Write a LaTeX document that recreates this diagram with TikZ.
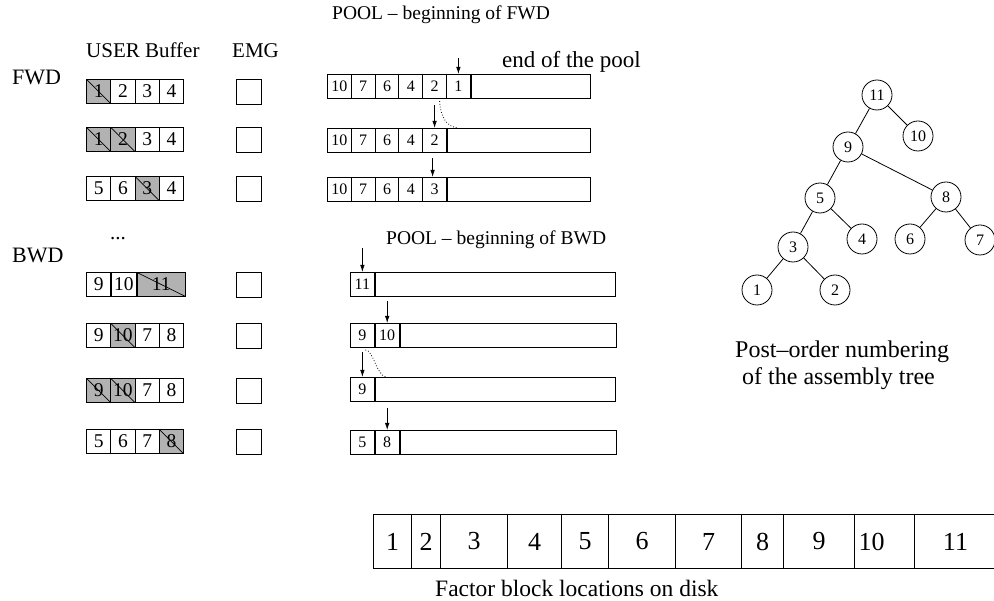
\documentclass[tikz,border=0pt]{standalone}
\usepackage{fontspec}
\setmainfont{Liberation Serif}
\usetikzlibrary{arrows.meta}

\tikzset{
  lbl/.style={inner sep=0pt, anchor=base west, font=\fontsize{21}{24}\selectfont},
  ucell/.style={draw, line width=1pt, minimum width=24.25pt, minimum height=24pt, inner sep=0pt, anchor=north west, font=\fontsize{19.5}{19.5}\selectfont},
  used/.style={fill=black!30, path picture={\draw[line width=0.7pt] (path picture bounding box.north west) -- (path picture bounding box.south east);}},
  emgbox/.style={draw, line width=1pt, minimum size=25pt, inner sep=0pt, anchor=north west},
  pcell/.style={draw, line width=1pt, minimum width=23.8pt, minimum height=24pt, inner sep=0pt, anchor=north west, font=\fontsize{16}{16}\selectfont},
  ptr/.style={-{Latex[length=7pt,width=4.5pt]}, line width=0.8pt},
  trail/.style={dotted, line width=0.8pt},
  tnode/.style={draw, circle, line width=0.8pt, minimum size=30pt, inner sep=0pt, font=\fontsize{16}{16}\selectfont},
  dcell/.style={draw, line width=1pt, minimum height=54pt, inner sep=0pt, anchor=north west, font=\fontsize{26}{26}\selectfont},
  lefty/.style={text width=52pt, align=left, inner xsep=4pt},
}

\begin{document}
\begin{tikzpicture}[x=1pt,y=-1pt]
    \useasboundingbox (0,0) rectangle (994,601);
    % headings
    \node[lbl, font=\fontsize{19.5}{22}\selectfont] (pfwd) at (332,20) {POOL -- beginning of FWD};
    \node[lbl] (ubuf) at (86,58) {USER Buffer};
    \node[lbl] (emg) at (232,58) {EMG};
    \node[lbl, font=\fontsize{22}{24}\selectfont] (fwd) at (12,85) {FWD};
    \node[lbl, font=\fontsize{23}{25}\selectfont] (eop) at (502,68) {end of the pool};
    \node[lbl] (dots) at (110,240) {...};
    \node[lbl, font=\fontsize{22}{24}\selectfont] (bwd) at (12,263) {BWD};
    \node[lbl, font=\fontsize{19.5}{22}\selectfont] (pbwd) at (386,245) {POOL -- beginning of BWD};

    % user buffer, forward phase
    \foreach \v/\s [count=\i] in {1/used,2/,3/,4/}
        \node[ucell,\s] (ua\i) at ({86+(\i-1)*24.25},79) {\v};
    \foreach \v/\s [count=\i] in {1/used,2/used,3/,4/}
        \node[ucell,\s] (ub\i) at ({86+(\i-1)*24.25},127) {\v};
    \foreach \v/\s [count=\i] in {5/,6/,3/used,4/}
        \node[ucell,\s] (uc\i) at ({86+(\i-1)*24.25},176) {\v};

    % user buffer, backward phase
    \node[ucell] (ud1) at (86,272) {9};
    \node[ucell] (ud2) at (ud1.north east) {10};
    \node[ucell, used, minimum width=48.5pt] (ud3) at (ud2.north east) {11};
    \foreach \v/\s [count=\i] in {9/,10/used,7/,8/}
        \node[ucell,\s] (ue\i) at ({86+(\i-1)*24.25},323) {\v};
    \foreach \v/\s [count=\i] in {9/used,10/used,7/,8/}
        \node[ucell,\s] (uf\i) at ({86+(\i-1)*24.25},378) {\v};
    \foreach \v/\s [count=\i] in {5/,6/,7/,8/used}
        \node[ucell,\s] (ug\i) at ({86+(\i-1)*24.25},429) {\v};

    % EMG boxes
    \foreach \y [count=\i] in {79,127,176,272,323,378,429}
        \node[emgbox] (emg\i) at (236,\y) {};

    % pool, forward phase
    \foreach \v [count=\i] in {10,7,6,4,2,1}
        \node[pcell] (pa\i) at ({327+(\i-1)*23.8},74) {\v};
    \node[pcell, minimum width=119.2pt] (pa-rest) at (pa6.north east) {};
    \foreach \v [count=\i] in {10,7,6,4,2}
        \node[pcell] (pb\i) at ({327+(\i-1)*23.8},128) {\v};
    \node[pcell, minimum width=143pt] (pb-rest) at (pb5.north east) {};
    \foreach \v [count=\i] in {10,7,6,4,3}
        \node[pcell] (pc\i) at ({327+(\i-1)*23.8},177) {\v};
    \node[pcell, minimum width=143pt] (pc-rest) at (pc5.north east) {};

    \draw[ptr] ([yshift=16pt]pa6.north) -- (pa6.north);
    \draw[ptr] ([yshift=23pt]pb5.north) -- (pb5.north);
    \draw[ptr] ([xshift=-2pt,yshift=19pt]pc5.north) -- ([xshift=-2pt]pc5.north);
    \draw[trail] ([xshift=5pt,yshift=-2pt]pa5.south) .. controls +(1,18) and +(-10,-1) .. ([xshift=11pt]pb-rest.north west);

    % pool, backward phase
    \node[pcell] (qa1) at (350,272) {11};
    \node[pcell, minimum width=240.2pt] (qa-rest) at (qa1.north east) {};
    \node[pcell] (qb1) at (350,323) {9};
    \node[pcell] (qb2) at (qb1.north east) {10};
    \node[pcell, minimum width=216.4pt] (qb-rest) at (qb2.north east) {};
    \node[pcell] (qc1) at (350,377) {9};
    \node[pcell, minimum width=240.2pt] (qc-rest) at (qc1.north east) {};
    \node[pcell] (qd1) at (350,430) {5};
    \node[pcell] (qd2) at (qd1.north east) {8};
    \node[pcell, minimum width=216.4pt] (qd-rest) at (qd2.north east) {};

    \draw[ptr] ([yshift=24pt]qa1.north) -- (qa1.north);
    \draw[ptr] ([yshift=22pt]qb2.north) -- (qb2.north);
    \draw[ptr] ([yshift=25pt]qc1.north) -- (qc1.north);
    \draw[ptr] ([yshift=22pt]qd2.north) -- (qd2.north);
    \draw[trail] ([xshift=3pt,yshift=-2pt]qb1.south) .. controls +(8,0) and +(-10,-3) .. ([xshift=11pt]qc-rest.north west);

    % assembly tree
    \node[tnode] (t11) at (877,95) {11};
    \node[tnode] (t10) at (918,136) {10};
    \node[tnode] (t9) at (848,147) {9};
    \node[tnode] (t5) at (820,198) {5};
    \node[tnode] (t8) at (946,197) {8};
    \node[tnode] (t4) at (862,239) {4};
    \node[tnode] (t6) at (910,239) {6};
    \node[tnode] (t7) at (980,240) {7};
    \node[tnode] (t3) at (793,247) {3};
    \node[tnode] (t1) at (757,290) {1};
    \node[tnode] (t2) at (835,290) {2};
    \draw[line width=0.8pt] (t11) -- (t9) (t11) -- (t10) (t9) -- (t5) (t9) -- (t8)
        (t5) -- (t3) (t5) -- (t4) (t8) -- (t6) (t8) -- (t7) (t3) -- (t1) (t3) -- (t2);
    \node[lbl, font=\fontsize{24}{26}\selectfont] (post1) at (735,358) {Post--order numbering};
    \node[lbl, font=\fontsize{24}{26}\selectfont] (post2) at (742,385) {of the assembly tree};

    % factor blocks on disk
    \foreach \a/\b/\v/\s [count=\i, evaluate=\b as \w using \b-\a] in
        {373/411/1/, 411/440/2/, 440/507/3/, 507/561/4/, 561/608/5/, 608/675/6/,
         675/741/7/, 741/783/8/, 783/854/9/, 854/914/10/lefty, 914/996/11/}
        \node[dcell, minimum width=\w pt, \s] (d\i) at (\a,514) {\v};
    \node[lbl, font=\fontsize{23.5}{26}\selectfont] (disk) at (435,596) {Factor block locations on disk};
\end{tikzpicture}
\end{document}
